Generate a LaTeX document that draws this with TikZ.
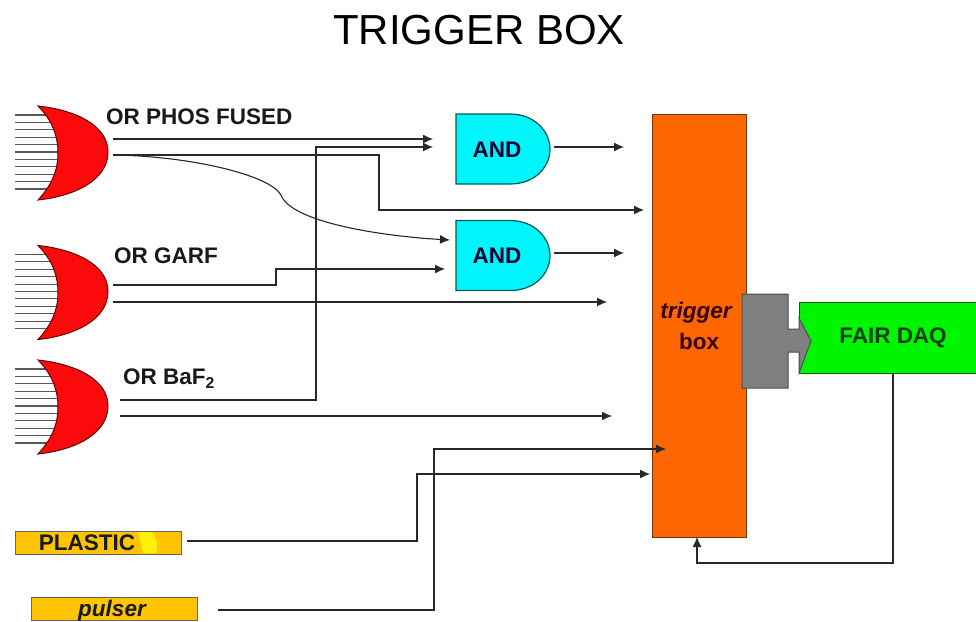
\documentclass[tikz,border=0pt]{standalone}
\usepackage{fontspec}
\setmainfont{Liberation Sans}
\usetikzlibrary{arrows.meta}
\definecolor{orred}{RGB}{250,10,10}
\definecolor{andcyan}{RGB}{0,245,250}
\definecolor{trigorange}{RGB}{255,102,0}
\definecolor{daqgreen}{RGB}{0,245,0}
\definecolor{bargold}{RGB}{255,196,0}
\definecolor{wiregray}{RGB}{40,40,40}
\tikzset{
  x=1pt,y=-1pt,
  wire/.style={draw=wiregray,line width=1.1pt},
  flow/.style={wire,-{Latex[length=10pt,width=9pt]}},
  lab/.style={font=\bfseries\fontsize{22.5}{25}\selectfont,inner sep=0pt,text=black!90},
  ilab/.style={font=\bfseries\itshape\fontsize{22.5}{25}\selectfont,inner sep=0pt,text=black!90},
  orgate/.style={fill=orred,draw=black!60!red,line width=1pt},
  andgate/.style={fill=andcyan,draw=teal!70!black,line width=1.2pt},
  barbox/.style={fill=bargold,draw=black!60,line width=1.1pt,minimum height=23pt,inner sep=0pt,anchor=north west},
  pin/.style={draw=black!65,line width=1.1pt}
}
\newcommand{\orshape}[2]{%
  \begin{scope}[yshift=-#1pt]
    \foreach \k in {0,...,10}
      \draw[pin] (15,{115+7.4*\k}) -- (58,{115+7.4*\k});
    \draw[orgate] (38,106) .. controls (75,110) and (108,125) .. (108,152)
       .. controls (108,180) and (75,196) .. (38,200)
       .. controls (52,185) and (58,170) .. (58,153)
       .. controls (58,136) and (52,120) .. (38,106) -- cycle;
  \end{scope}}
\newcommand{\andshape}[1]{%
  \draw[andgate] (456,#1) -- (510,#1) .. controls (535,#1) and (550,#1+18) .. (550,#1+35)
     .. controls (550,#1+53) and (535,#1+70) .. (510,#1+70) -- (456,#1+70) -- cycle;}
\begin{document}
\begin{tikzpicture}
\useasboundingbox (0,0) rectangle (976,621);
\fill[white] (0,0) rectangle (976,621);

\node[inner sep=0pt,font=\fontsize{42}{46}\selectfont,text=black] (title) at (479,30) {TRIGGER BOX};

% OR gates
\orshape{0}{a}
\orshape{139.5}{b}
\orshape{254}{c}
\node[lab,anchor=west] (lphos) at (106,117) {OR PHOS FUSED};
\node[lab,anchor=west] (lgarf) at (114,256) {OR GARF};
\node[lab,anchor=west] (lbaf) at (123,379) {OR BaF$_{\mathbf 2}$};

% AND gates
\andshape{114}
\andshape{220.5}
\node[lab,text=black!80!blue] (and1) at (497,149.5) {AND};
\node[lab,text=black!80!blue] (and2) at (497,255.5) {AND};

% Trigger box
\node[fill=trigorange,draw=black!55!orange,line width=0.9pt,minimum width=94pt,minimum height=423pt,inner sep=0pt] (trig) at (699,325.5) {};
\node[ilab,text=black!80!red] (ttrig) at (696,313) {trigger};
\node[lab,text=black!80!red] (tbox) at (699,341) {box};

% DAQ
\node[fill=daqgreen,draw=black!60!green,line width=1.1pt,minimum width=180pt,minimum height=71pt,inner sep=0pt,anchor=north west] (daq) at (799,302) {};
\node[lab,text=black!75!green] (tdaq) at (893,338) {FAIR DAQ};

% Connector block
\draw[fill=black!50,draw=black!70,line width=1pt] (742,294) -- (788,294) -- (788,329) -- (799,329) -- (799,318) -- (811,341) -- (799,373) -- (799,352) -- (788,352) -- (788,388) -- (742,388) -- cycle;

% Bars
\node[barbox,minimum width=166pt] (plastic) at (15,531) {};
\fill[yellow] (138,532) -- (152,532) -- (157,542) -- (157,553) -- (143,553) -- cycle;
\node[lab] (tplastic) at (87,543) {PLASTIC};
\node[barbox,minimum width=166pt] (pulser) at (31,597) {};
\node[ilab] (tpulser) at (112,611) {pulser};

% Named ends
\coordinate (o1a) at (113,139);
\coordinate (o1b) at (113,155);
\coordinate (e1a) at (433,139);
\coordinate (e6) at (433,147);
\coordinate (e1b) at (644,210);
\coordinate (e3) at (450,240);
\coordinate (o2a) at (113,285);
\coordinate (o2b) at (113,302);
\coordinate (e2a) at (445,269);
\coordinate (e2b) at (607,302);
\coordinate (o3a) at (120,400);
\coordinate (o3b) at (120,416);
\coordinate (e3b) at (612,416);
\coordinate (a1o) at (554,147);
\coordinate (a2o) at (554,253);
\coordinate (a1e) at (624,147);
\coordinate (a2e) at (624,253);
\coordinate (po) at (187,541);
\coordinate (pe) at (650,474);
\coordinate (qo) at (218,610);
\coordinate (qe) at (666,449);
\coordinate (do) at (893,373);
\coordinate (de) at (697,537);

% Connectors
\draw[flow] (o1a) -- (e1a);
\draw[flow] (o1b) -- (379,155) -- (379,210) -- (e1b);
\draw[flow] (o1b) .. controls (190,156) and (270,175) .. (281,195)
   .. controls (291,222) and (380,236) .. (e3);
\draw[flow] (o2a) -- (276,285) -- (276,269) -- (e2a);
\draw[flow] (o2b) -- (e2b);
\draw[flow] (o3a) -- (316,400) -- (316,147) -- (e6);
\draw[flow] (o3b) -- (e3b);
\draw[flow] (a1o) -- (a1e);
\draw[flow] (a2o) -- (a2e);
\draw[flow] (po) -- (417,541) -- (417,474) -- (pe);
\draw[flow] (qo) -- (434,610) -- (434,449) -- (qe);
\draw[flow] (do) -- (893,563) -- (697,563) -- (de);
\end{tikzpicture}
\end{document}
